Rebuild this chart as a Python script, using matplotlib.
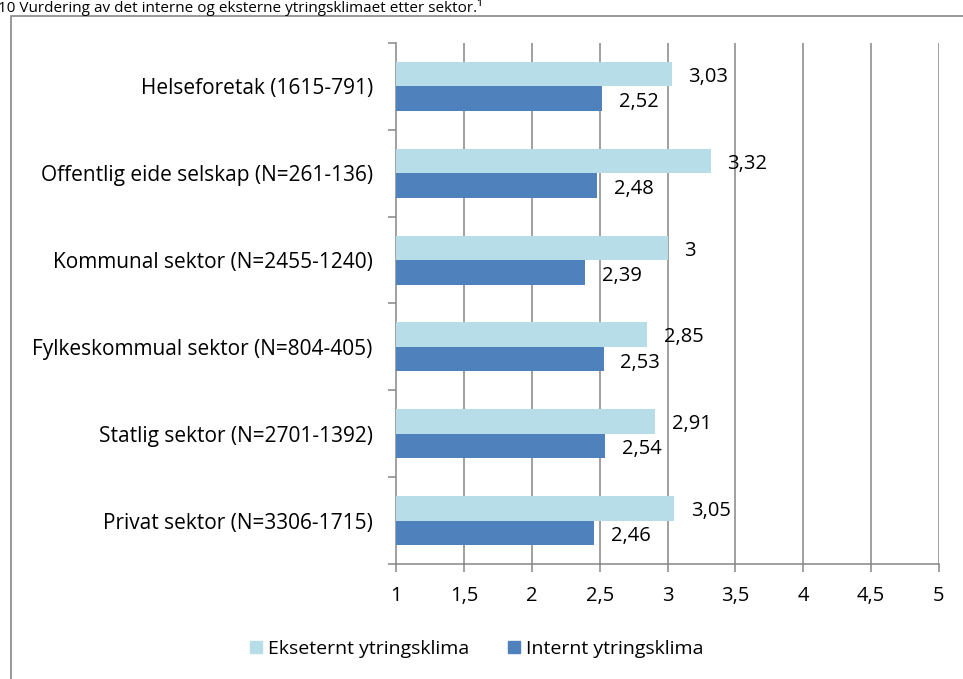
import numpy as np
import matplotlib.pyplot as plt
from matplotlib.patches import Rectangle, Patch

plt.rcParams['font.family'] = ['Open Sans', 'DejaVu Sans']

# Sektorer (nederst til øverst) og gjennomsnittsverdier
sektorer = [
    "Privat sektor (N=3306-1715)",
    "Statlig sektor (N=2701-1392)",
    "Fylkeskommual sektor (N=804-405)",
    "Kommunal sektor (N=2455-1240)",
    "Offentlig eide selskap (N=261-136)",
    "Helseforetak (1615-791)",
]
eksternt = [3.05, 2.91, 2.85, 3.00, 3.32, 3.03]
internt = [2.46, 2.54, 2.53, 2.39, 2.48, 2.52]
x_ticks = [1, 1.5, 2, 2.5, 3, 3.5, 4, 4.5, 5]

lys = '#B7DEE8'
mork = '#4F81BD'
graa = '#868686'


def komma(v):
    return f"{v:g}".replace('.', ',')


fig = plt.figure(figsize=(9.63, 6.79), dpi=100)
ax = fig.add_axes([0.4117, 0.1694, 0.5629, 0.7673])

y = np.arange(len(sektorer))
h = 0.282
ax.barh(y + h / 2, np.array(eksternt) - 1, height=h, left=1, color=lys, zorder=3)
ax.barh(y - h / 2, np.array(internt) - 1, height=h, left=1, color=mork, zorder=3)

for i in range(len(sektorer)):
    ax.annotate(komma(eksternt[i]), (eksternt[i], y[i] + h / 2), xytext=(12, -2),
                textcoords='offset points', va='center', ha='left', fontsize=14.5)
    ax.annotate(komma(internt[i]), (internt[i], y[i] - h / 2), xytext=(12, -2.5),
                textcoords='offset points', va='center', ha='left', fontsize=14.5)

ax.set_xlim(1, 5)
ax.set_ylim(-0.5, len(sektorer) - 0.5)
ax.set_xticks(x_ticks)
ax.set_xticklabels([komma(t) for t in x_ticks], fontsize=14.5)
ax.set_yticks(y)
ax.set_yticklabels(sektorer, fontsize=15)
ax.set_yticks(np.arange(-0.5, len(sektorer)), minor=True)

ax.tick_params(axis='y', which='major', length=0, pad=17)
ax.tick_params(axis='y', which='minor', length=6, width=1.1, color=graa)
ax.tick_params(axis='x', length=6, width=1.1, color=graa, pad=10)

for x in x_ticks[1:]:
    ax.axvline(x, color=graa, lw=1.1, zorder=1)

for s in ['top', 'right']:
    ax.spines[s].set_visible(False)
for s in ['left', 'bottom']:
    ax.spines[s].set_color(graa)
    ax.spines[s].set_linewidth(1.1)

# ramme rundt diagrammet
fig.patches.append(Rectangle((10.5 / 963, -0.1), 1.2, 1 - 15.5 / 679 + 0.1,
                             transform=fig.transFigure, fill=False,
                             edgecolor=graa, lw=1.2))

fig.text(-0.002, 1 - 12.5 / 679,
         "10 Vurdering av det interne og eksterne ytringsklimaet etter sektor.\u00b9",
         fontsize=11, va='baseline', ha='left')

handles = [Patch(color=lys, label='Ekseternt ytringsklima'),
           Patch(color=mork, label='Internt ytringsklima')]
fig.legend(handles=handles, loc='center', bbox_to_anchor=(0.495, 1 - 649 / 679),
           ncol=2, frameon=False, fontsize=14, handlelength=0.6, handleheight=0.6,
           handletextpad=0.3, columnspacing=2.0)

fig.savefig('out.png', dpi=100)
